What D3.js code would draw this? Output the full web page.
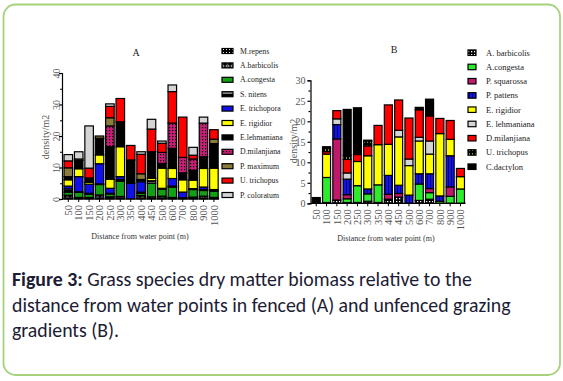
<!DOCTYPE html>
<html><head><meta charset="utf-8">
<script src="https://cdn.jsdelivr.net/npm/d3@7"></script>
<style>body{margin:0;background:#fff}svg{display:block}</style>
</head><body>
<svg id="c" width="563" height="381"></svg>
<script>
// ---------- data ----------
const distances = ["50","100","150","200","250","300","350","400","450","500","600","700","800","900","1000"];
const yTicksA = [0,10,20,30,40];
const yTicksB = [0,5,10,15,20,25,30];

// Chart A (fenced) - stacked bottom -> top in legend order
const speciesA = ["M.repens","A.barbicolis","A.congesta","S. nitens","E. trichopora","E. rigidior","E.lehmaniana","D.milanjiana","P. maximum","U. trichopus","P. coloratum"];
const aMRepens     = [0.3,0.2,0.2,0.3,0.3,0.3,0,  0.3,0.2,0.3,0.2,0,  0.2,0.3,0.2];
const aABarbicolis = [0.9,0.3,0.3,1.0,0.4,0.5,0,  0.8,0.5,0.6,0.3,0.2,0.4,0.6,0.3];
const aACongesta   = [1.0,1.6,1.0,3.3,0.9,4.9,0,  0.7,4.3,2.2,3.3,0,  2.4,1.8,2.0];
const aSNitens     = [1.0,0.2,0.3,0.2,0.2,0.5,0,  0.4,0.8,0.3,0.3,0.2,0.3,0.3,0.5];
const aETrichopora = [0.9,4.8,2.9,6.4,1.6,0.9,5.0,3.3,0,  0,  2.4,1.8,0,  0.8,0];
const aERigidior   = [2.0,2.5,0.6,2.8,2.9,9.5,0,  0.4,0.8,6.4,3.2,3.9,2.7,5.9,6.8];
const aELehmaniana = [1.0,2.6,1.4,5.3,10.3,7.9,7.4,0.3,8.4,1.5,6.4,2.2,3.1,3.7,7.8];
const aDMilanjiana = [0,  0,  0,  0,  6.6,0,  0,  0,  0,  3.5,8.0,4.9,3.6,10.7,0];
const aPMaximum    = [2.8,0.5,0,  0.7,2.6,0,  0,  1.8,0,  0,  0,  0,  0,  0,  1.4];
const aUTrichopus  = [2.2,0,  3.1,0,  3.6,7.4,4.6,6.2,7.2,2.9,10.0,12.8,1.2,0, 3.0];
const aPColoratum  = [2.0,2.3,13.4,0, 0.8,0,  0,  0.8,3.1,0.7,2.1,0,  2.5,1.9,0];

// Chart B (unfenced)
const speciesB = ["A. barbicolis","A.congesta","P. squarossa","P. pattens","E. rigidior","E. lehmaniana","D.milanjiana","U. trichopus","C.dactylon"];
const bABarbicolis = [0,  0.2,0.8,0.2,0.2,0.5,0.2,1.0,1.5,0,  0.7,1.0,0,  0,  0];
const bACongesta   = [0,  6.1,0,  0.9,4.1,1.8,4.3,0,  0,  0,  4.0,1.6,0.5,1.7,3.5];
const bPSquarossa  = [0,  0,  14.9,1.0,0, 0,  0,  1.2,0.9,0,  0,  1.0,0,  2.3,0];
const bPPatens     = [0,  0,  3.5,3.8,0,  1.2,0,  4.6,2.0,2.0,2.5,3.6,1.3,7.6,0];
const bERigidior   = [0,  5.7,0,  0,  5.9,8.1,9.8,7.6,11.8,7.2,8.0,4.8,15.2,4.0,3.0];
const bELehmaniana = [0,  0,  1.4,1.5,0,  0,  0,  0,  1.6,1.6,0.9,3.2,0,  0,  0];
const bDMilanjiana = [0,  0.6,2.0,3.3,1.7,2.4,4.7,9.6,7.4,10.0,6.7,6.1,3.7,4.6,2.0];
const bUTrichopus  = [0,  0.8,0,  1.0,0,  1.2,0,  0,  0,  0,  0,  0,  0,  0,  0];
const bCDactylon   = [1.4,0.4,0,  11.2,11.4,0.2,0, 0,  0,  0,  0.6,4.1,0,  0,  0];

// ---------- build ----------
const svg = d3.select("#c");
const defs = svg.append("defs");
function pat(id, w, h, bg, draw){
  const p = defs.append("pattern").attr("id",id).attr("patternUnits","userSpaceOnUse").attr("width",w).attr("height",h);
  p.append("rect").attr("width",w).attr("height",h).attr("fill",bg);
  draw(p);
}
pat("pMrep",3,3,"#000",p=>p.append("rect").attr("x",1).attr("y",1).attr("width",1).attr("height",1).attr("fill","#fff"));
pat("pAbar",5,4,"#000",p=>p.append("ellipse").attr("cx",2.5).attr("cy",2).attr("rx",1.6).attr("ry",1).attr("fill","none").attr("stroke","#fff").attr("stroke-width",0.7));
pat("pSnit",6,6,"#000",p=>p.append("rect").attr("x",0).attr("y",2.5).attr("width",6).attr("height",1).attr("fill","#fff"));
pat("pDmil",3,3,"#c81e78",p=>p.append("rect").attr("x",1).attr("y",1).attr("width",1.2).attr("height",1.2).attr("fill","#000"));
pat("pBbar",3,3,"#000",p=>p.append("rect").attr("x",0).attr("y",0).attr("width",1.3).attr("height",1.3).attr("fill","#fff"));
pat("pPpat",3,3,"#1414e6",p=>p.append("rect").attr("x",1).attr("y",0).attr("width",0.8).attr("height",3).attr("fill","#000066"));
pat("pUtri",3,4,"#000",p=>p.append("rect").attr("x",1).attr("y",1).attr("width",1).attr("height",2).attr("fill","#9a9420"));

const fillsA = ["url(#pMrep)","url(#pAbar)","#14a014","url(#pSnit)","#1010e8","#ffff00","#000000","url(#pDmil)","#8c7c3c","#ff0000","#d4d4d4"];
const fillsB = ["url(#pBbar)","#2cec2c","#c0186a","url(#pPpat)","#ffff00","#d4d4d4","#ff0000","url(#pUtri)","#000000"];

const valsA = [aMRepens,aABarbicolis,aACongesta,aSNitens,aETrichopora,aERigidior,aELehmaniana,aDMilanjiana,aPMaximum,aUTrichopus,aPColoratum];
const valsB = [bABarbicolis,bACongesta,bPSquarossa,bPPatens,bERigidior,bELehmaniana,bDMilanjiana,bUTrichopus,bCDactylon];

const serif = "'Liberation Serif','DejaVu Serif',serif";

function chart(o){
  const rows = distances.map((d,i)=>{const r={cat:d}; o.species.forEach((s,j)=>r[s]=o.vals[j][i]); return r;});
  const stack = d3.stack().keys(o.species)(rows);
  const x = d3.scaleBand().domain(distances).range(o.xr).paddingInner(o.pi).paddingOuter(0.1);
  const y = d3.scaleLinear().domain(o.yd).range(o.yr);
  const g = svg.append("g");
  stack.forEach((layer,k)=>{
    g.selectAll(null).data(layer.filter(d=>d[1]-d[0]>0)).join("rect")
      .attr("x",d=>x(d.data.cat)).attr("width",x.bandwidth())
      .attr("y",d=>y(d[1])).attr("height",d=>y(d[0])-y(d[1]))
      .attr("fill",o.fills[k]).attr("stroke","#000").attr("stroke-width",1.2);
  });
  // y axis
  const ya = g.append("g").attr("transform",`translate(${o.ax},0)`)
    .call(d3.axisLeft(y).tickValues(o.yTicks).tickSize(3).tickPadding(2));
  const ym = g.append("g").attr("transform",`translate(${o.ax},0)`)
    .call(d3.axisLeft(y).tickValues(o.minor).tickSize(2).tickFormat(""));
  ym.select(".domain").remove();
  [ya,ym].forEach(a=>{a.select(".domain").attr("stroke","#000").attr("stroke-width",1.2);a.selectAll("line").attr("stroke","#000").attr("stroke-width",1.2);});
  ya.selectAll("text").attr("font-family",serif).attr("font-size",o.yfs).attr("fill","#555");
  if(o.rotY){
    ya.selectAll("text").attr("transform","rotate(-90)").attr("text-anchor","middle").attr("x",0).attr("y",-2).attr("dy",null);
  }
  // x axis
  const xa = g.append("g").attr("transform",`translate(0,${o.yr[0]})`)
    .call(d3.axisBottom(x).tickSize(3).tickSizeOuter(0));
  xa.select(".domain").attr("stroke","#000").attr("stroke-width",1.2).attr("d",`M${o.ax},0H${o.xr[1]}`);
  xa.selectAll("line").attr("stroke","#000");
  xa.selectAll("text").attr("font-family",serif).attr("font-size",10.5).attr("fill","#555")
    .attr("transform","rotate(-90)").attr("text-anchor","end").attr("x",-6).attr("y",0).attr("dy","0.35em");
  // titles
  g.append("text").attr("x",o.tx).attr("y",o.ty).attr("text-anchor","middle").attr("font-family",serif).attr("font-size",10).attr("fill","#222").text(o.title);
  g.append("text").attr("transform",`translate(${o.ylx},${o.yly}) rotate(-90)`).attr("text-anchor","middle").attr("font-family",serif).attr("font-size",10).attr("fill","#555").text("density/m2");
  g.append("text").attr("x",o.xlx).attr("y",o.xly).attr("text-anchor","middle").attr("font-family",serif).attr("font-size",8).attr("fill","#333").text("Distance from water point (m)");
  // legend
  const lg = g.append("g");
  o.species.forEach((s,k)=>{
    const yy = o.ly0 + k*o.lstep;
    lg.append("rect").attr("x",o.lx).attr("y",yy-o.lh/2).attr("width",o.lw).attr("height",o.lh).attr("fill",o.fills[k]).attr("stroke","#000").attr("stroke-width",1.2);
    lg.append("text").attr("x",o.ltx).attr("y",yy).attr("dy","0.33em").attr("font-family",serif).attr("font-size",o.lfs).attr("fill","#222").text(s);
  });
}

chart({species:speciesA, vals:valsA, fills:fillsA, xr:[63,219.2], pi:0.18, yd:[0,40], yr:[199,73], ax:62,
  yTicks:yTicksA, minor:[5,15,25,35], yfs:10, rotY:true, title:"A", tx:136, ty:56,
  ylx:49, yly:137, xlx:140, xly:239, lx:222, lw:11, lh:5, ly0:51, lstep:14.4, ltx:240, lfs:7.8});
chart({species:speciesB, vals:valsB, fills:fillsB, xr:[311.2,465.5], pi:0.22, yd:[0,30], yr:[203.3,80.3], ax:310.5,
  yTicks:yTicksB, minor:[2.5,7.5,12.5,17.5,22.5,27.5], yfs:10, rotY:false, title:"B", tx:394, ty:53,
  ylx:297, yly:141, xlx:386, xly:241, lx:468, lw:8, lh:5.5, ly0:52.7, lstep:14.25, ltx:486, lfs:8.5});

// frame
svg.append("rect").attr("x",3.5).attr("y",4.5).attr("width",556.5).attr("height",370.5).attr("rx",12)
  .attr("fill","none").attr("stroke","#a6d27c").attr("stroke-width",1.8);

// caption
const capLines = [
  [["Figure 3:",true],[" Grass species dry matter biomass relative to the",false]],
  [["distance from water points in fenced (A) and unfenced grazing",false]],
  [["gradients (B).",false]]
];
const capFont = "Carlito,Lato,'Open Sans',sans-serif";
const capBase = [286,312,337];
const texts = capLines.map((ln,i)=>{
  const t = svg.append("text").attr("x",12).attr("y",capBase[i]).attr("font-family",capFont).attr("font-size",18).attr("fill","#1c1c34");
  ln.forEach(([s,b])=>t.append("tspan").attr("font-weight",b?"bold":"normal").text(s));
  return t;
});
const w0 = texts[0].node().getComputedTextLength();
const fs = 18*460/w0;
texts.forEach(t=>t.attr("font-size",fs));
</script>
</body></html>
